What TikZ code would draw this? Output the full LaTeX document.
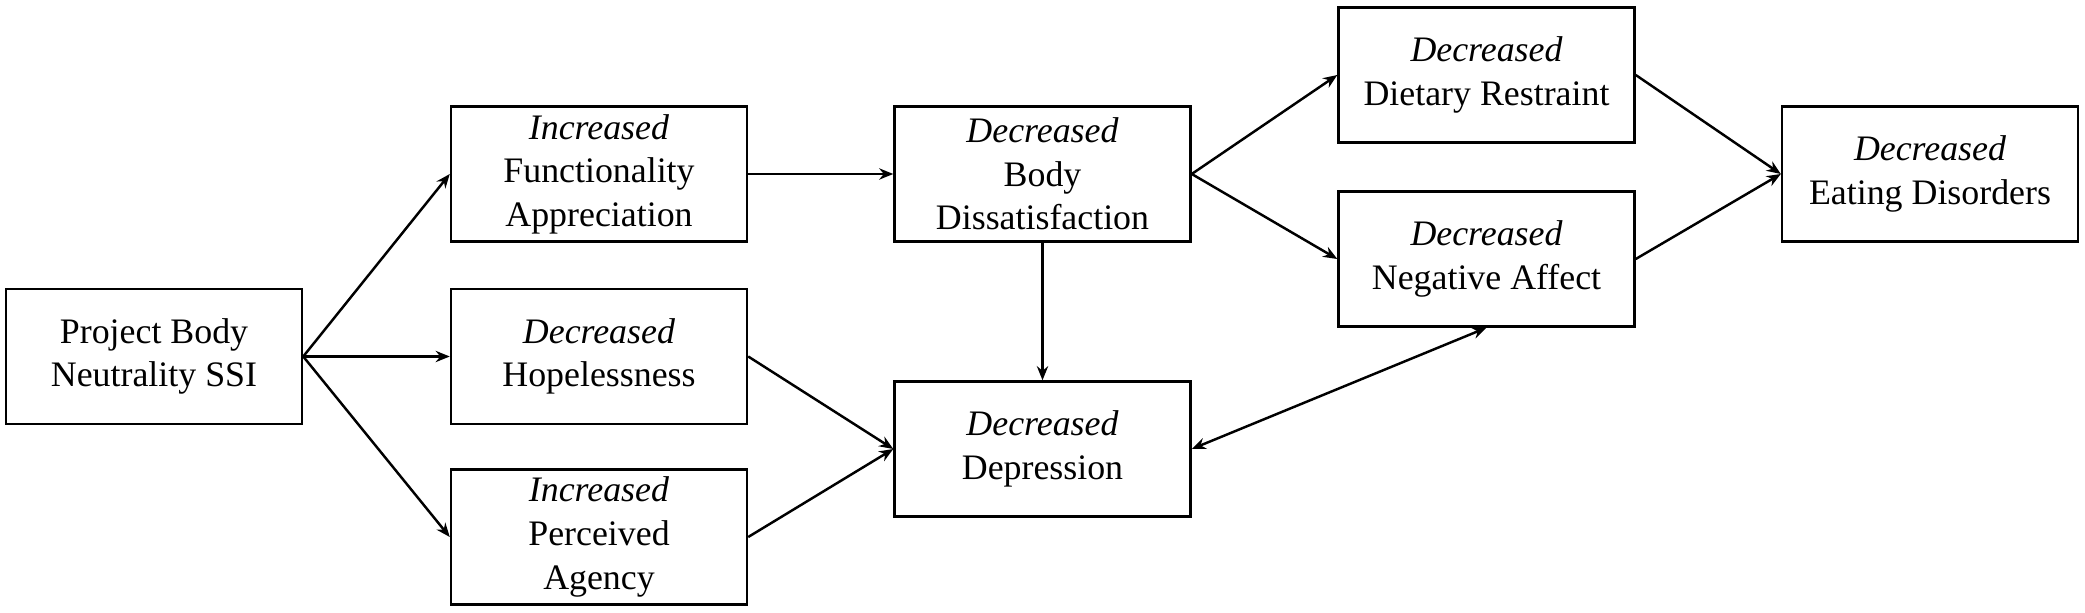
\documentclass[tikz,border=0pt]{standalone}
\usepackage{fontspec}
\setmainfont{Liberation Serif}
\usetikzlibrary{arrows.meta}
\tikzset{
    edge_arrow/.style={-{Stealth[length=4pt,width=3.2pt]}, line width=0.7pt, draw=black},
    both_arrow/.style={{Stealth[length=4pt,width=3.2pt]}-{Stealth[length=4pt,width=3.2pt]}, line width=0.7pt, draw=black},
    box_node/.style={rectangle, draw=black, line width=0.7pt, minimum width=2.96cm, minimum height=1.35cm, inner sep=0pt, align=center, font=\fontsize{10.2}{12.4}\selectfont}
}

\begin{document}
\begin{tikzpicture}
\useasboundingbox (0, 0) rectangle (20.85, 6.12);

\node[box_node] (pbn)        at ( 1.54, 2.555) {Project Body\\Neutrality SSI};

\node[box_node] (func)       at ( 5.99, 4.38)  {\textit{Increased}\\Functionality\\Appreciation};
\node[box_node] (hope)       at ( 5.99, 2.555) {\textit{Decreased}\\Hopelessness};
\node[box_node] (agency)     at ( 5.99, 0.75)  {\textit{Increased}\\Perceived\\Agency};

\node[box_node] (body)       at (10.425, 4.38) {\textit{Decreased}\\Body\\Dissatisfaction};
\node[box_node] (depression) at (10.425, 1.63) {\textit{Decreased}\\Depression};

\node[box_node] (diet)       at (14.865, 5.37) {\textit{Decreased}\\Dietary Restraint};
\node[box_node] (neg)        at (14.865, 3.53) {\textit{Decreased}\\Negative Affect};

\node[box_node] (eating)     at (19.30, 4.38)  {\textit{Decreased}\\Eating Disorders};

\draw[edge_arrow] (pbn.east) -- (func.west);
\draw[edge_arrow] (pbn.east) -- (hope.west);
\draw[edge_arrow] (pbn.east) -- (agency.west);

\draw[edge_arrow] (func.east) -- (body.west);
\draw[edge_arrow] (hope.east) -- (depression.west);
\draw[edge_arrow] (agency.east) -- (depression.west);

\draw[edge_arrow] (body.south) -- (depression.north);
\draw[edge_arrow] (body.east) -- (diet.west);
\draw[edge_arrow] (body.east) -- (neg.west);

\draw[both_arrow] (depression.east) -- (neg.south);

\draw[edge_arrow] (diet.east) -- (eating.west);
\draw[edge_arrow] (neg.east) -- (eating.west);

\end{tikzpicture}
\end{document}
